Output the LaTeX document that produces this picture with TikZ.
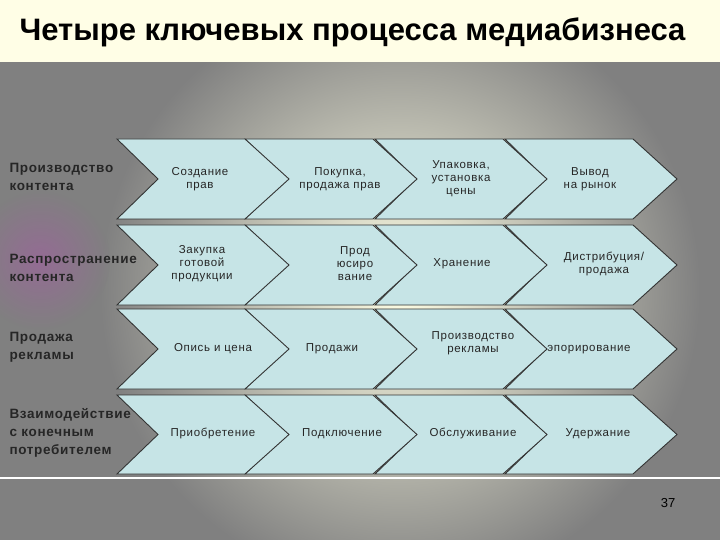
\documentclass[tikz,border=0pt]{standalone}
\usepackage{fontspec}
\setmainfont{Liberation Sans}
\definecolor{chevfill}{RGB}{198,228,230}
\definecolor{bggray}{RGB}{128,128,128}
\begin{document}
\begin{tikzpicture}[x=1pt,y=-1pt,
  chev/.style={fill=chevfill, draw=black!80, line width=0.9pt},
  ctext/.style={font=\addfontfeature{LetterSpace=6}\fontsize{11.5}{13}\selectfont, align=center, text=black!85},
  rlabel/.style={font=\addfontfeature{LetterSpace=5}\bfseries\fontsize{13.5}{18}\selectfont, align=left, anchor=west, text=black!85}]
\useasboundingbox (0,0) rectangle (720,540);
\fill[bggray] (0,0) rectangle (720,540);
\shade[inner color=white!90!yellow, outer color=bggray] (400,290) circle (300);
\shade[inner color=magenta!40!gray, outer color=bggray, opacity=0.4] (40,260) circle (70);
\fill[yellow!10!white] (0,0) rectangle (720,62);
\node[font=\bfseries\fontsize{31}{34}\selectfont, anchor=west] (title) at (16,32) {Четыре ключевых процесса медиабизнеса};
\draw[white, line width=2pt] (0,478) -- (720,478);
\newcommand\chevr[3]{% x0, ytop, ybot
  \draw[chev] (#1,#2) -- ({#1+128},#2) -- ({#1+172},{(#2+#3)/2}) -- ({#1+128},#3) -- (#1,#3) -- ({#1+41},{(#2+#3)/2}) -- cycle;}
\foreach \yt/\yb in {139/219,225/305,309/389,395/474}{
  \foreach \xx in {505,375,245,117}{\chevr{\xx}{\yt}{\yb}}}
\node[rlabel] (r1) at (6,177) {Производство\\контента};
\node[rlabel] (r2) at (6,268) {Распространение\\контента};
\node[rlabel] (r3) at (6,347) {Продажа\\рекламы};
\node[rlabel] (r4) at (6,433) {Взаимодействие\\с конечным\\потребителем};
\node[ctext] (a1) at (200,179) {Создание\\прав};
\node[ctext] (a2) at (340,179) {Покупка,\\продажа прав};
\node[ctext] (a3) at (461,179) {Упаковка,\\установка\\цены};
\node[ctext] (a4) at (590,179) {Вывод\\на рынок};
\node[ctext] (b1) at (202,264) {Закупка\\готовой\\продукции};
\node[ctext] (b2) at (355,264) {Прод\\юсиро\\вание};
\node[ctext] (b3) at (462,264) {\strut Хранение};
\node[ctext] (b4) at (604,264) {Дистрибуция/\\продажа};
\node[ctext] (c1) at (213,349) {\strut Опись и цена};
\node[ctext] (c2) at (332,349) {\strut Продажи};
\node[ctext] (c3) at (473,343) {Производство\\рекламы};
\node[ctext] (c4) at (589,349) {\strut эпорирование};
\node[ctext] (d1) at (213,434) {\strut Приобретение};
\node[ctext] (d2) at (342,434) {\strut Подключение};
\node[ctext] (d3) at (473,434) {\strut Обслуживание};
\node[ctext] (d4) at (598,434) {\strut Удержание};
\node[font=\fontsize{13}{15}\selectfont] (pg) at (668,503) {37};
\end{tikzpicture}
\end{document}
